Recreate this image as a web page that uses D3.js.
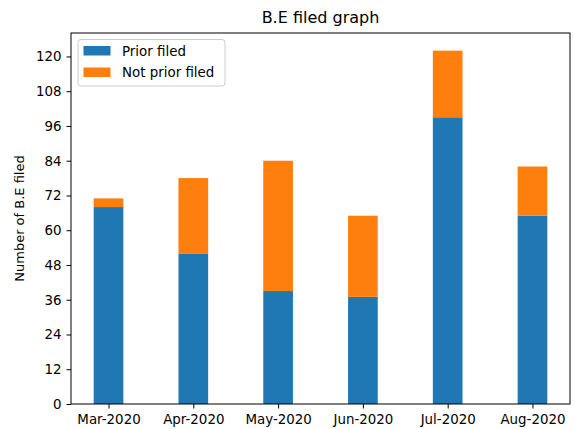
<!DOCTYPE html>
<html>
<head>
<meta charset="utf-8">
<script src="https://cdn.jsdelivr.net/npm/d3@7"></script>
<style>
  body { margin: 0; background: #fff; }
  text { font-family: "DejaVu Sans", sans-serif; fill: #000; }
</style>
</head>
<body>
<svg id="chart"></svg>
<script>
// chart data
const months = ["Mar-2020", "Apr-2020", "May-2020", "Jun-2020", "Jul-2020", "Aug-2020"]
const priorFiled = [68, 52, 39, 37, 99, 65]
const notPriorFiled = [3, 26, 45, 28, 23, 17]
const yTicks = [0, 12, 24, 36, 48, 60, 72, 84, 96, 108, 120]
const seriesNames = ["Prior filed", "Not prior filed"]
const seriesColors = ["#1f77b4", "#ff7f0e"]

// svg size
const width = 574
const height = 429

// plot area
const pad_left = 71
const pad_right = 570
const pad_top = 33
const pad_bottom = 404

let svg = d3.select('#chart')
    .attr('width', width)
    .attr('height', height)

// bar positions 0..n-1, width 0.35 with matplotlib style margins
let barW = 0.35
let lo = -barW / 2, hi = months.length - 1 + barW / 2
let m = (hi - lo) * 0.05
let xScale = d3.scaleLinear().domain([lo - m, hi + m]).range([pad_left, pad_right])

let totals = priorFiled.map((d, i) => d + notPriorFiled[i])
let yMax = d3.max(totals) * 1.05
let yScale = d3.scaleLinear().domain([0, yMax]).range([pad_bottom, pad_top])

// stacked bars
let stacked = d3.stack().keys([0, 1]).value((d, k) => d[k])(priorFiled.map((d, i) => [d, notPriorFiled[i]]))

svg.append('g').selectAll('g')
    .data(stacked)
    .join('g')
    .attr('fill', (d, i) => seriesColors[i])
    .selectAll('rect')
    .data(d => d)
    .join('rect')
    .attr('x', (d, i) => xScale(i - barW / 2))
    .attr('width', (d, i) => xScale(i + barW / 2) - xScale(i - barW / 2))
    .attr('y', d => yScale(d[1]))
    .attr('height', d => yScale(d[0]) - yScale(d[1]))

// axes
let xAxis = d3.axisBottom(xScale)
    .tickValues(d3.range(months.length))
    .tickFormat(i => months[i])
    .tickSize(4.5).tickPadding(6)
svg.append('g')
    .attr('transform', 'translate(0,' + pad_bottom + ')')
    .call(xAxis)
    .call(g => g.select('.domain').remove())
    .selectAll('text')
    .style('font-size', '13.4px')
    .attr('fill', '#000')

let yAxis = d3.axisLeft(yScale).tickValues(yTicks).tickSize(4.5).tickPadding(5)
svg.append('g')
    .attr('transform', 'translate(' + pad_left + ',0)')
    .call(yAxis)
    .call(g => g.select('.domain').remove())
    .selectAll('text')
    .style('font-size', '13.4px')
    .attr('fill', '#000')

svg.selectAll('.tick line').attr('stroke', '#000').attr('stroke-width', 1)

// frame
svg.append('rect')
    .attr('x', pad_left).attr('y', pad_top)
    .attr('width', pad_right - pad_left).attr('height', pad_bottom - pad_top)
    .attr('fill', 'none').attr('stroke', '#000').attr('stroke-width', 1)

// title and axis label
svg.append('text')
    .attr('x', (pad_left + pad_right) / 2)
    .attr('y', 23)
    .attr('text-anchor', 'middle')
    .style('font-size', '16px')
    .text('B.E filed graph')

svg.append('text')
    .attr('transform', 'translate(24,' + (pad_top + pad_bottom) / 2 + ') rotate(-90)')
    .attr('text-anchor', 'middle')
    .style('font-size', '13px')
    .text('Number of B.E filed')

// legend
let legend = svg.append('g').attr('transform', 'translate(78,39.5)')
legend.append('rect')
    .attr('width', 147).attr('height', 46.5).attr('rx', 3)
    .attr('fill', '#fff').attr('fill-opacity', 0.8)
    .attr('stroke', '#ccc').attr('stroke-width', 1)
seriesNames.forEach((name, i) => {
    legend.append('rect')
        .attr('x', 5.5).attr('y', 6.5 + i * 21.5)
        .attr('width', 27).attr('height', 9.5)
        .attr('fill', seriesColors[i])
    legend.append('text')
        .attr('x', 44).attr('y', 16 + i * 21.5)
        .style('font-size', '13.4px')
        .text(name)
})
</script>
</body>
</html>
